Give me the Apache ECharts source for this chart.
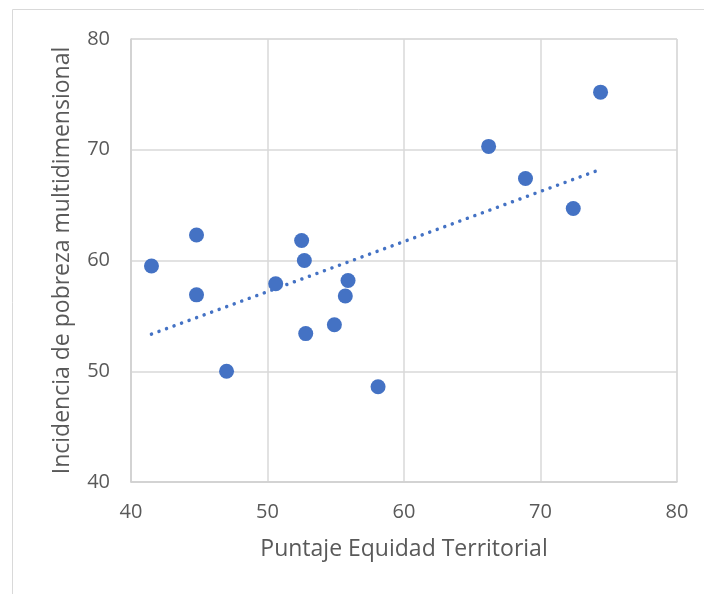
<!DOCTYPE html>
<html><head><meta charset="utf-8">
<script src="https://cdn.jsdelivr.net/npm/echarts@6/dist/echarts.min.js"></script>
<style>html,body{margin:0;padding:0;background:#fff}#c{width:704px;height:594px}</style>
</head><body><div id="c"></div>
<script>
const equidad = [41.5, 44.8, 44.8, 47.0, 50.6, 52.5, 52.7, 52.8, 54.9, 55.7, 55.9, 58.1, 66.2, 68.9, 72.4, 74.4];
const pobreza = [59.5, 62.3, 56.9, 50.0, 57.9, 61.8, 60.0, 53.4, 54.2, 56.8, 58.2, 48.6, 70.3, 67.4, 64.7, 75.2];
const xTicks = [40, 50, 60, 70, 80];
const yTicks = [40, 50, 60, 70, 80];
const xTitle = 'Puntaje Equidad Territorial';
const yTitle = 'Incidencia de pobreza multidimensional';

const pts = equidad.map((x, i) => [x, pobreza[i]]);
// linear trendline (least squares) computed from the data
const n = equidad.length;
const mx = equidad.reduce((a, b) => a + b, 0) / n;
const my = pobreza.reduce((a, b) => a + b, 0) / n;
let sxy = 0, sxx = 0;
for (let i = 0; i < n; i++) { sxy += (equidad[i] - mx) * (pobreza[i] - my); sxx += (equidad[i] - mx) ** 2; }
const slope = sxy / sxx, icpt = my - slope * mx;
const xmin = Math.min(...equidad), xmax = Math.max(...equidad);
const trend = [[xmin, icpt + slope * xmin], [xmax, icpt + slope * xmax]];

const font = 'Open Sans';
const txt = '#595959';
const chart = echarts.init(document.getElementById('c'));
chart.setOption({
  animation: false,
  graphic: [{ type: 'rect', shape: { x: 12.5, y: 9.5, width: 720, height: 620 }, style: { fill: 'none', stroke: '#d9d9d9', lineWidth: 1 }, z: -1 }],
  grid: { left: 131, right: 27, top: 39, bottom: 112, show: true, borderColor: '#d9d9d9', borderWidth: 1 },
  xAxis: {
    type: 'value', min: xTicks[0], max: xTicks[xTicks.length - 1], interval: 10,
    name: xTitle, nameLocation: 'middle', nameGap: 56,
    nameTextStyle: { fontFamily: font, fontSize: 23, color: txt },
    axisLine: { show: true, lineStyle: { color: '#d0d0d0', width: 1.5 } },
    axisTick: { show: false },
    axisLabel: { fontFamily: font, fontSize: 20, color: txt, margin: 20 },
    splitLine: { show: true, lineStyle: { color: '#d9d9d9', width: 1.5 } }
  },
  yAxis: {
    type: 'value', min: yTicks[0], max: yTicks[yTicks.length - 1], interval: 10,
    name: yTitle, nameLocation: 'middle', nameGap: 57, nameRotate: 90,
    nameTextStyle: { fontFamily: font, fontSize: 23, color: txt },
    axisLine: { show: true, lineStyle: { color: '#d0d0d0', width: 1.5 } },
    axisTick: { show: false },
    axisLabel: { fontFamily: font, fontSize: 20, color: txt, margin: 21 },
    splitLine: { show: true, lineStyle: { color: '#d9d9d9', width: 1.5 } }
  },
  series: [
    { type: 'line', data: trend, symbol: 'none', silent: true, z: 1,
      lineStyle: { color: '#4472C4', width: 3.5, type: [0.01, 8], cap: 'round' } },
    { type: 'scatter', data: pts, symbol: 'circle', symbolSize: 15, z: 2,
      itemStyle: { color: '#4472C4', opacity: 1 } }
  ]
});
</script></body></html>
